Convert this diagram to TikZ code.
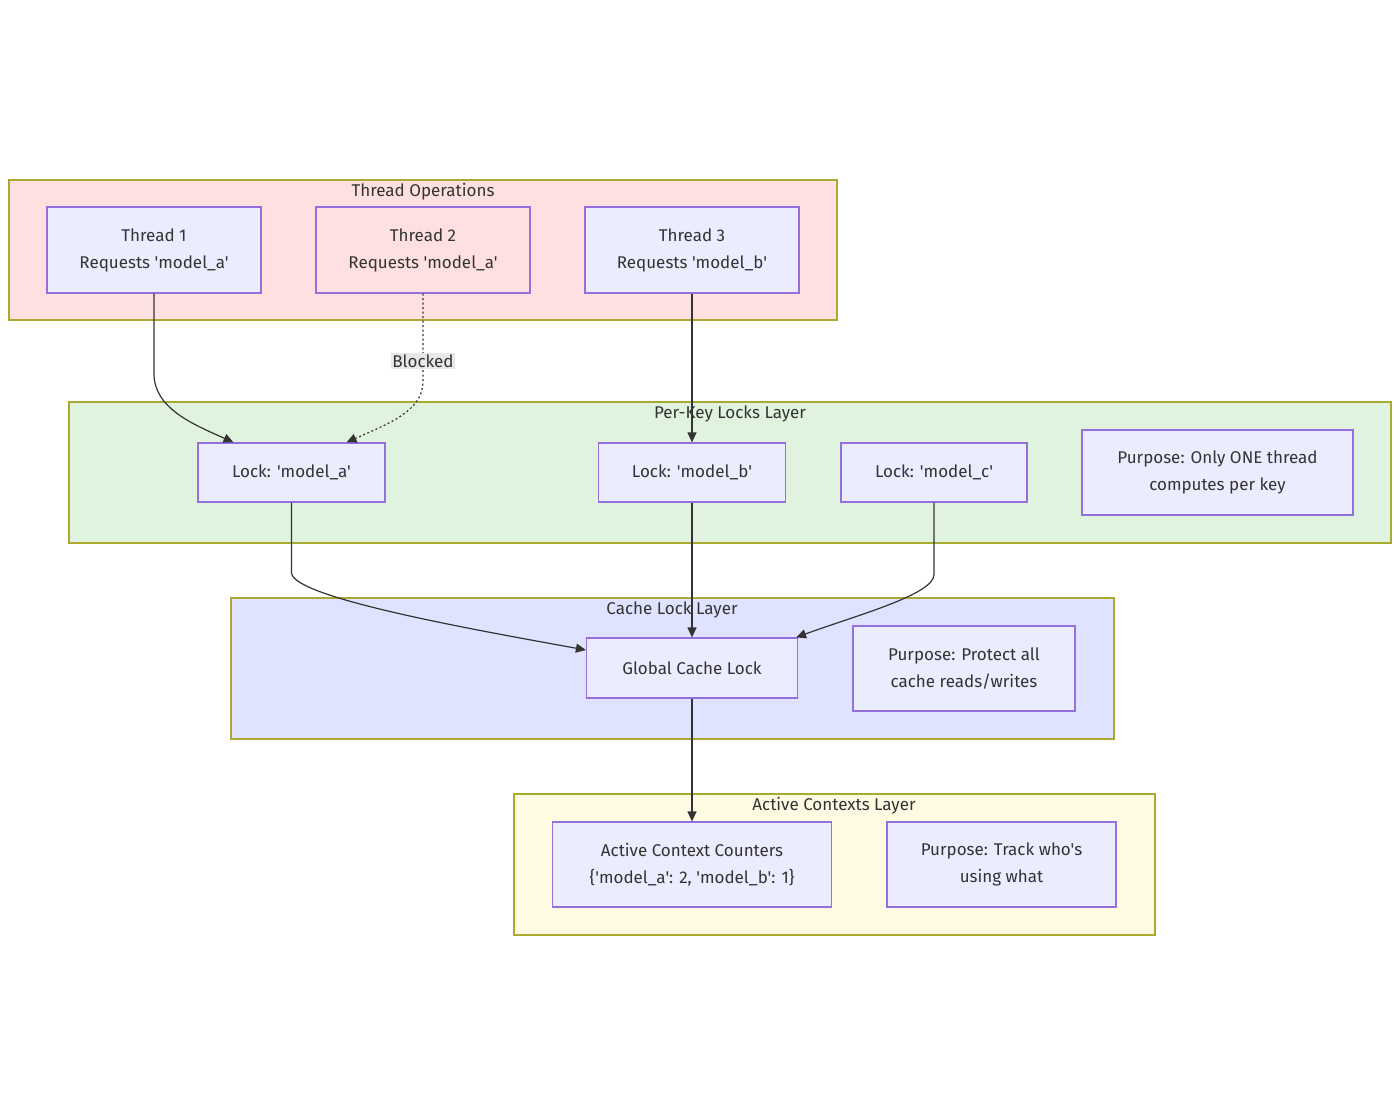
\documentclass[tikz,border=0pt]{standalone}
\usepackage{fontspec}
\setmainfont{Fira Sans}[Ligatures=TeXOff]
\usetikzlibrary{arrows.meta,calc}
\definecolor{nodefill}{RGB}{236,236,255}
\definecolor{nodeline}{RGB}{147,112,219}
\definecolor{clline}{RGB}{170,170,51}
\definecolor{pinkfill}{RGB}{255,224,224}
\definecolor{greenfill}{RGB}{224,243,222}
\definecolor{bluefill}{RGB}{224,227,255}
\definecolor{yellowfill}{RGB}{255,250,226}
\definecolor{txt}{RGB}{51,51,51}
\definecolor{lblfill}{RGB}{232,232,232}
\begin{document}
\begin{tikzpicture}[x=1pt,y=-1pt,
  font=\fontsize{17}{27}\selectfont, text=txt,
  cluster/.style={draw=clline, line width=1.2pt, inner sep=0pt},
  box/.style={draw=nodeline, fill=nodefill, line width=1.2pt, align=center, inner sep=0pt},
  title/.style={inner sep=0pt, anchor=center},
  arr/.style={draw=txt, line width=1.2pt, -{Triangle[length=10pt,width=9pt]}},
  dotarr/.style={arr, dash pattern=on 2pt off 2.5pt}
]
\useasboundingbox (0,0) rectangle (1400,1115);
% clusters
\node[cluster, fill=pinkfill, minimum width=828, minimum height=140] (c1) at (423,250) {};
\node[title] (c1t) at (423,192) {Thread Operations};
\node[cluster, fill=greenfill, minimum width=1322, minimum height=141] (c2) at (730,472.5) {};
\node[title] (c2t) at (730,414) {Per-Key Locks Layer};
\node[cluster, fill=bluefill, minimum width=883, minimum height=141] (c3) at (672.5,668.5) {};
\node[title] (c3t) at (672,610) {Cache Lock Layer};
\node[cluster, fill=yellowfill, minimum width=641, minimum height=141] (c4) at (834.5,864.5) {};
\node[title] (c4t) at (834,806) {Active Contexts Layer};
% nodes
\node[box, minimum width=214, minimum height=86] (t1) at (154,250) {Thread 1\\Requests 'model\_a'};
\node[box, fill=pinkfill, minimum width=214, minimum height=86] (t2) at (423,250) {Thread 2\\Requests 'model\_a'};
\node[box, minimum width=214, minimum height=86] (t3) at (692,250) {Thread 3\\Requests 'model\_b'};
\node[box, minimum width=187, minimum height=59] (la) at (291.5,472.5) {Lock: 'model\_a'};
\node[box, minimum width=187, minimum height=59] (lb) at (692,472.5) {Lock: 'model\_b'};
\node[box, minimum width=186, minimum height=59] (lc) at (934,472.5) {Lock: 'model\_c'};
\node[box, minimum width=271, minimum height=85] (p1) at (1217.5,472.5) {Purpose: Only ONE thread\\computes per key};
\node[box, minimum width=211, minimum height=60] (g) at (692,668) {Global Cache Lock};
\node[box, minimum width=222, minimum height=85] (p2) at (964,668.5) {Purpose: Protect all\\cache reads/writes};
\node[box, minimum width=279, minimum height=85] (ac) at (692,864.5) {Active Context Counters\\\{'model\_a': 2, 'model\_b': 1\}};
\node[box, minimum width=229, minimum height=85] (p3) at (1001.5,864.5) {Purpose: Track who's\\using what};
% edges
\draw[arr] (t1.south) -- ++(0,80) .. controls ++(0,35) and ++(-40,-18) .. ($(la.north)+(-58,0)$);
\draw[dotarr] (t2.south) -- ++(0,88) .. controls ++(0,30) and ++(40,-18) .. ($(la.north)+(55,0)$);
\node[fill=lblfill, inner xsep=1pt, inner ysep=2pt] (bl) at (423,361) {Blocked};
\draw[arr] (t3.south) -- (lb.north);
\draw[arr] (la.south) -- ++(0,70) .. controls ++(0,25) and ++(-110,-20) .. ($(g.west)+(0,-18)$);
\draw[arr] (lb.south) -- (g.north);
\draw[arr] (lc.south) -- ++(0,72) .. controls ++(0,20) and ++(60,-22) .. ($(g.north east)+(-2,0)$);
\draw[arr] (g.south) -- (ac.north);
\end{tikzpicture}
\end{document}
